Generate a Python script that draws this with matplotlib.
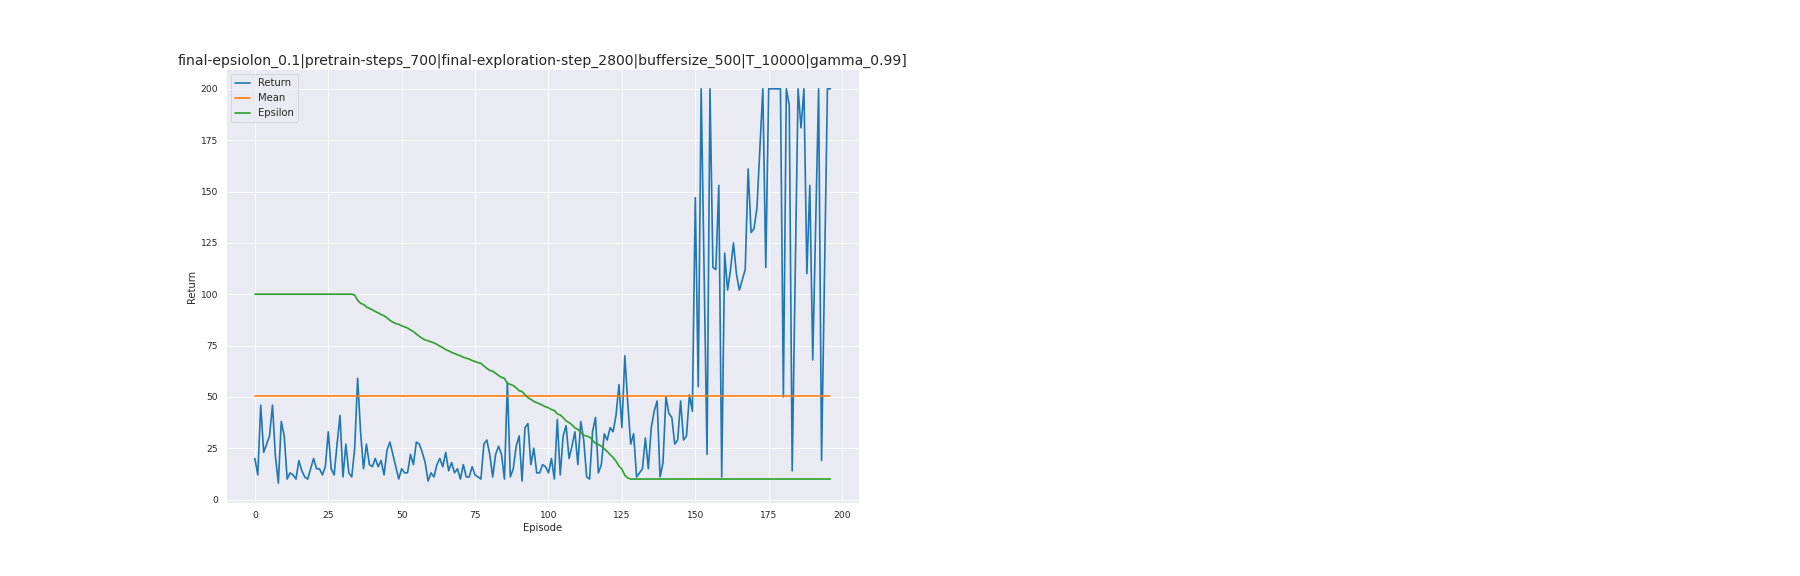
import numpy as np
import matplotlib
matplotlib.use('Agg')
import matplotlib.pyplot as plt
import seaborn as sns

# returns per episode
returns = [20, 12, 46, 23, 27, 31, 46, 21, 8, 38,
           31, 10, 13, 12, 10, 19, 14, 11, 10, 15,
           20, 15, 15, 12, 16, 33, 15, 12, 27, 41,
           11, 27, 13, 11, 25, 59, 33, 15, 27, 17,
           16, 20, 16, 19, 12, 24, 28, 22, 16, 10,
           15, 13, 13, 22, 17, 28, 27, 23, 18, 9,
           13, 11, 17, 20, 16, 23, 14, 18, 13, 15,
           10, 17, 11, 11, 16, 12, 11, 10, 27, 29,
           22, 11, 22, 26, 22, 10, 57, 11, 15, 26,
           31, 9, 35, 37, 17, 25, 13, 13, 17, 16,
           13, 20, 10, 39, 12, 31, 36, 20, 26, 33,
           17, 38, 29, 11, 10, 33, 40, 13, 17, 32,
           29, 35, 33, 41, 56, 35, 70, 47, 27, 32,
           11, 13, 15, 30, 15, 35, 43, 48, 11, 18,
           50, 42, 40, 27, 29, 48, 29, 31, 51, 43,
           147, 55, 200, 111, 22, 200, 113, 112, 153, 11,
           120, 102, 112, 125, 110, 102, 107, 112, 161, 130,
           132, 142, 171, 200, 113, 200, 200, 200, 200, 200,
           50, 200, 192, 14, 107, 200, 181, 200, 110, 153,
           68, 134, 200, 19, 110, 200, 200]

# epsilon (x100) per episode
eps_flat_start = [100] * 34
eps_decay = [99.6, 97.0, 95.6, 95.0, 93.8, 93.1, 92.4, 91.6, 90.9, 90.1,
             89.5, 88.5, 87.3, 86.4, 85.7, 85.3, 84.6, 84.1, 83.5, 82.6,
             81.8, 80.6, 79.5, 78.5, 77.7, 77.3, 76.8, 76.3, 75.6, 74.7,
             74.0, 73.0, 72.4, 71.7, 71.1, 70.5, 70.0, 69.3, 68.8, 68.4,
             67.7, 67.2, 66.7, 66.3, 65.1, 63.9, 62.9, 62.5, 61.5, 60.4,
             59.5, 59.0, 56.6, 56.1, 55.5, 54.4, 53.0, 52.6, 51.1, 49.6,
             48.8, 47.8, 47.2, 46.6, 45.9, 45.2, 44.7, 43.8, 43.4, 41.7,
             41.2, 39.9, 38.3, 37.5, 36.4, 34.9, 34.2, 32.6, 31.3, 30.9,
             30.4, 29.0, 27.3, 26.8, 26.0, 24.7, 23.4, 21.9, 20.5, 18.7,
             16.3, 14.8, 11.8, 10.5]
eps_flat_end = [10] * 69
epsilon = eps_flat_start + eps_decay + eps_flat_end

mean_return = 50.4

episodes = np.arange(len(returns))

sns.set_theme(style='darkgrid', palette='tab10')
fig = plt.figure(figsize=(30, 9.6), dpi=60)
ax = fig.add_axes([0.1256, 0.127, 0.3517, 0.753])
ax.plot(episodes, returns, lw=2, label='Return')
ax.plot(episodes, [mean_return] * len(episodes), lw=2, label='Mean')
ax.plot(episodes, epsilon, lw=2, label='Epsilon')
ax.set_xticks(range(0, 201, 25))
ax.set_yticks(range(0, 201, 25))
ax.set_xlabel('Episode')
ax.set_ylabel('Return')
ax.set_title('final-epsiolon_0.1|pretrain-steps_700|final-exploration-step_2800|buffersize_500|T_10000|gamma_0.99]',
             fontsize=16.8)
ax.legend(loc='upper left', fontsize=12, handlelength=1.5)
plt.savefig('out.png', dpi=60)
